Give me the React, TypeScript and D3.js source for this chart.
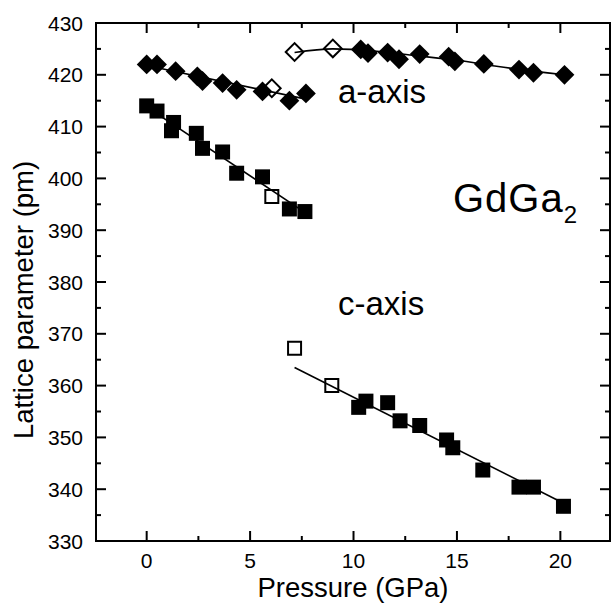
import React, { useEffect, useRef } from "react";
import * as d3 from "d3";

// a-axis, low pressure phase
const aLowP = [0, 0.5, 1.4, 2.45, 2.7, 3.67, 4.35, 5.6, 6.9, 7.7];
const aLowV = [422.0, 422.0, 420.7, 419.7, 418.8, 418.4, 417.1, 416.8, 415.0, 416.4];
const aLowOpenP = [6.05];
const aLowOpenV = [417.4];
const aLowFitP = [0, 7.7];
const aLowFitV = [421.8, 415.3];

// a-axis, high pressure phase
const aHighOpenP = [7.15, 9.0];
const aHighOpenV = [424.4, 425.1];
const aHighP = [10.35, 10.7, 11.65, 12.2, 13.2, 14.6, 14.9, 16.3, 18.0, 18.7, 20.2];
const aHighV = [424.9, 424.2, 424.3, 423.0, 424.0, 423.5, 422.6, 422.1, 421.0, 420.4, 420.0];
const aHighFitP = [7.15, 9, 11, 13, 15, 17, 20.2];
const aHighFitV = [424.3, 425.0, 424.6, 423.7, 422.8, 421.6, 420.0];

// c-axis, low pressure phase
const cLowP = [0, 0.5, 1.3, 1.2, 2.4, 2.7, 3.67, 4.35, 5.6, 6.9, 7.65];
const cLowV = [414.0, 413.0, 410.8, 409.2, 408.7, 405.8, 405.1, 401.0, 400.3, 394.1, 393.6];
const cLowOpenP = [6.05];
const cLowOpenV = [396.5];
const cLowFitP = [0, 7.7];
const cLowFitV = [413.8, 393.3];

// c-axis, high pressure phase
const cHighOpenP = [7.15, 8.95];
const cHighOpenV = [367.2, 360.0];
const cHighP = [10.25, 10.6, 11.65, 12.25, 13.2, 14.5, 14.8, 16.25, 18.0, 18.7, 20.15];
const cHighV = [355.8, 357.0, 356.7, 353.2, 352.3, 349.5, 348.0, 343.7, 340.4, 340.4, 336.7];
const cHighFitP = [7.15, 20.3];
const cHighFitV = [363.5, 337.0];

const xMajor = [0, 5, 10, 15, 20];
const xMinor = [2.5, 7.5, 12.5, 17.5];
const yMajor = [330, 340, 350, 360, 370, 380, 390, 400, 410, 420, 430];
const yMinor = [335, 345, 355, 365, 375, 385, 395, 405, 415, 425];

const font = "'Liberation Sans', Arial, Helvetica, sans-serif";

const zip = (xs: number[], ys: number[]) => xs.map((x, i) => [x, ys[i]] as [number, number]);

export default function App() {
  const ref = useRef<HTMLDivElement>(null);

  useEffect(() => {
    const el = ref.current;
    if (!el) return;
    d3.select(el).select("svg").remove();

    const width = 613,
      height = 614;
    const left = 96,
      right = 610,
      top = 23,
      bottom = 541;

    const x = d3.scaleLinear().domain([-2.45, 22.4]).range([left, right]);
    const y = d3.scaleLinear().domain([330, 430]).range([bottom, top]);

    const svg = d3
      .select(el)
      .append("svg")
      .attr("width", width)
      .attr("height", height)
      .style("position", "absolute")
      .style("left", 0)
      .style("top", 0)
      .style("background", "white");

    // frame
    svg
      .append("rect")
      .attr("x", left)
      .attr("y", top)
      .attr("width", right - left)
      .attr("height", bottom - top)
      .attr("fill", "none")
      .attr("stroke", "black")
      .attr("stroke-width", 2);

    // inward ticks on all four sides
    const ticks = svg.append("g").attr("stroke", "black").attr("stroke-width", 2);
    const xt = (vals: number[], len: number) => {
      vals.forEach((v) => {
        ticks.append("line").attr("x1", x(v)).attr("x2", x(v)).attr("y1", bottom).attr("y2", bottom - len);
        ticks.append("line").attr("x1", x(v)).attr("x2", x(v)).attr("y1", top).attr("y2", top + len);
      });
    };
    const yt = (vals: number[], len: number) => {
      vals.forEach((v) => {
        ticks.append("line").attr("x1", left).attr("x2", left + len).attr("y1", y(v)).attr("y2", y(v));
        ticks.append("line").attr("x1", right).attr("x2", right - len).attr("y1", y(v)).attr("y2", y(v));
      });
    };
    xt(xMajor, 10);
    xt(xMinor, 5);
    yt(yMajor, 10);
    yt(yMinor, 5);

    // tick labels
    svg
      .selectAll(".xl")
      .data(xMajor)
      .enter()
      .append("text")
      .attr("x", (d) => x(d))
      .attr("y", 568)
      .attr("text-anchor", "middle")
      .style("font-family", font)
      .style("font-size", "21px")
      .text((d) => d);

    svg
      .selectAll(".yl")
      .data(yMajor)
      .enter()
      .append("text")
      .attr("x", 83)
      .attr("y", (d) => y(d))
      .attr("dy", "0.36em")
      .attr("text-anchor", "end")
      .style("font-family", font)
      .style("font-size", "21px")
      .text((d) => d);

    // axis titles
    svg
      .append("text")
      .attr("x", (left + right) / 2)
      .attr("y", 597)
      .attr("text-anchor", "middle")
      .style("font-family", font)
      .style("font-size", "27.5px")
      .text("Pressure (GPa)");

    svg
      .append("text")
      .attr("transform", "translate(33,439) rotate(-90)")
      .attr("text-anchor", "start")
      .style("font-family", font)
      .style("font-size", "27.5px")
      .text("Lattice parameter (pm)");

    // fit lines
    const line = d3
      .line<[number, number]>()
      .x((d) => x(d[0]))
      .y((d) => y(d[1]))
      .curve(d3.curveMonotoneX);
    [
      zip(aLowFitP, aLowFitV),
      zip(aHighFitP, aHighFitV),
      zip(cLowFitP, cLowFitV),
      zip(cHighFitP, cHighFitV),
    ].forEach((pts) => {
      svg
        .append("path")
        .attr("d", line(pts))
        .attr("fill", "none")
        .attr("stroke", "black")
        .attr("stroke-width", 1.6);
    });

    const diamond = d3.symbol().type(d3.symbolSquare).size(14 * 14)();
    const square = d3.symbol().type(d3.symbolSquare).size(15 * 15)();
    const openSquare = d3.symbol().type(d3.symbolSquare).size(13 * 13)();
    const openDiamond = d3.symbol().type(d3.symbolSquare).size(12.5 * 12.5)();

    const marks = (pts: [number, number][], d: string | null, rot: number, open: boolean) => {
      svg
        .append("g")
        .selectAll("path")
        .data(pts)
        .enter()
        .append("path")
        .attr("d", d)
        .attr("transform", (p) => `translate(${x(p[0])},${y(p[1])}) rotate(${rot})`)
        .attr("fill", open ? "none" : "black")
        .attr("stroke", "black")
        .attr("stroke-width", open ? 2 : 0);
    };

    marks(zip(aLowP, aLowV), diamond, 45, false);
    marks(zip(aHighP, aHighV), diamond, 45, false);
    marks(zip(aLowOpenP, aLowOpenV), openDiamond, 45, true);
    marks(zip(aHighOpenP, aHighOpenV), openDiamond, 45, true);
    marks(zip(cLowP, cLowV), square, 0, false);
    marks(zip(cHighP, cHighV), square, 0, false);
    marks(zip(cLowOpenP, cLowOpenV), openSquare, 0, true);
    marks(zip(cHighOpenP, cHighOpenV), openSquare, 0, true);

    // labels
    const label = (tx: string, lx: number, ly: number, size: number) =>
      svg
        .append("text")
        .attr("x", lx)
        .attr("y", ly)
        .style("font-family", font)
        .style("font-size", `${size}px`)
        .text(tx);

    label("a-axis", 338, 103, 33);
    label("c-axis", 338, 315, 33);

    const g = svg
      .append("text")
      .attr("x", 453)
      .attr("y", 212)
      .style("font-family", font)
      .style("font-size", "40px");
    g.append("tspan").style("letter-spacing", "1px").text("GdGa");
    g.append("tspan").attr("dy", 11).style("font-size", "24px").text("2");
  }, []);

  return <div ref={ref} />;
}
